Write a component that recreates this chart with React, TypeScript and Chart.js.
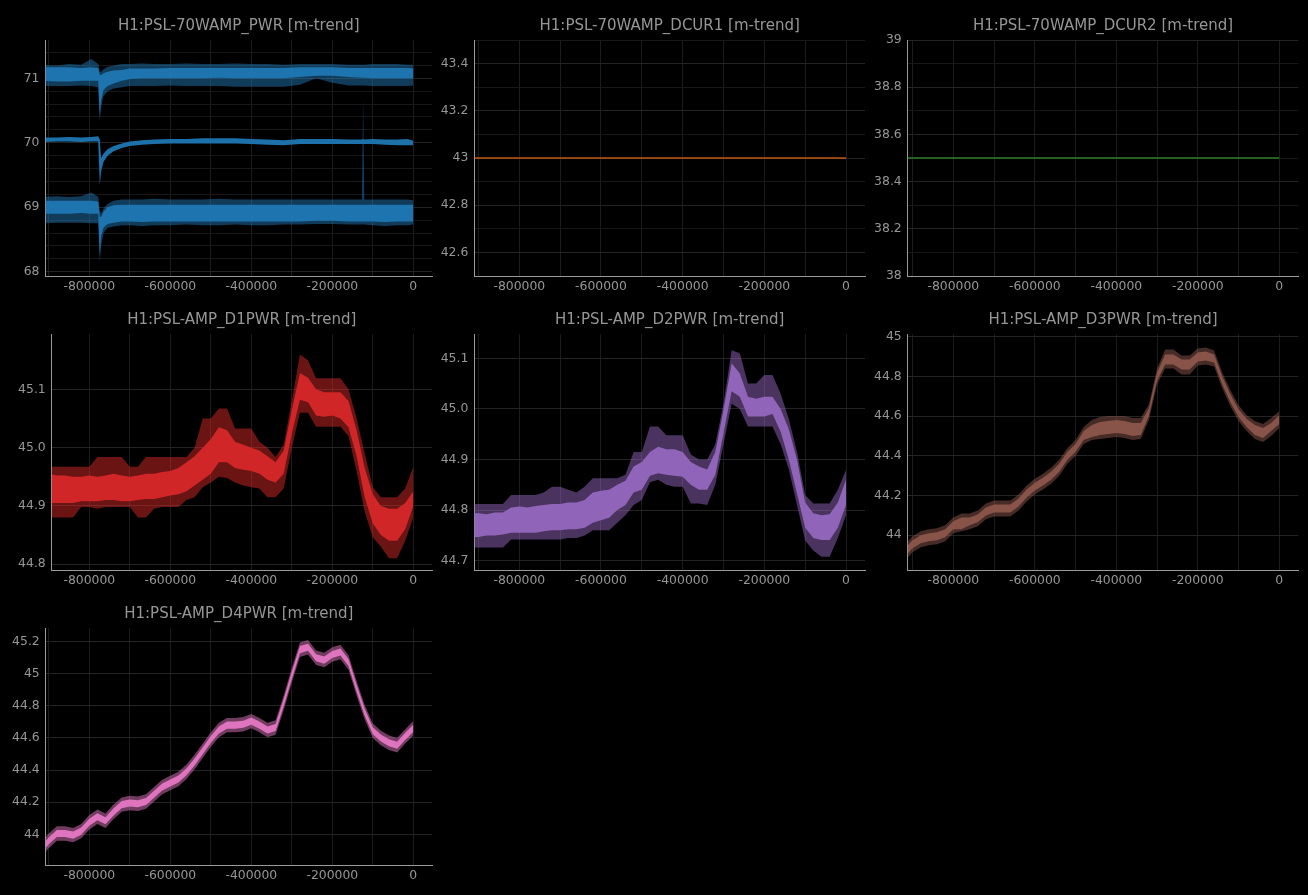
import { useEffect, useRef } from 'react';
import { Chart, registerables } from 'chart.js';

Chart.register(...registerables);

const FONT = '"DejaVu Sans", sans-serif';
const TEXT = '#969696';
const AXIS = '#9a9a9a';
const GRID_MAJOR = '#242424';
const GRID_MINOR = '#181818';
const GRID_X = '#1c1c1c';

// x ticks (seconds), labels shown on every second one
const X_TICKS = [-900000, -800000, -700000, -600000, -500000, -400000, -300000, -200000, -100000, 0];

// ---- H1:PSL-70WAMP_PWR (max / mean / min bands) ----
const T_PWR = [-920000, -880000, -850000, -820000, -795000, -778000, -774000, -771000, -765000, -755000, -740000, -720000, -700000, -670000, -640000, -600000, -560000, -520000, -480000, -440000, -400000, -360000, -320000, -280000, -240000, -200000, -160000, -127000, -124000, -121000, -100000, -70000, -40000, -15000, 0];
const PWR_MAX_OUT_HI = [71.21, 71.2, 71.22, 71.21, 71.3, 71.22, 71.1, 71.1, 71.14, 71.18, 71.2, 71.22, 71.22, 71.23, 71.22, 71.22, 71.23, 71.22, 71.22, 71.23, 71.22, 71.22, 71.21, 71.22, 71.22, 71.22, 71.21, 71.21, 71.21, 71.21, 71.22, 71.22, 71.22, 71.21, 71.21];
const PWR_MAX_OUT_LO = [70.88, 70.88, 70.88, 70.89, 70.88, 70.86, 70.33, 70.55, 70.72, 70.8, 70.84, 70.86, 70.88, 70.88, 70.88, 70.89, 70.88, 70.88, 70.88, 70.87, 70.87, 70.87, 70.87, 70.9, 71.0, 70.93, 70.89, 70.89, 70.89, 70.89, 70.88, 70.88, 70.88, 70.88, 70.89];
const PWR_MAX_CORE_HI = [71.17, 71.17, 71.17, 71.16, 71.17, 71.16, 71.05, 71.05, 71.08, 71.1, 71.12, 71.13, 71.15, 71.15, 71.15, 71.16, 71.16, 71.16, 71.16, 71.16, 71.16, 71.16, 71.16, 71.17, 71.17, 71.17, 71.16, 71.16, 71.16, 71.16, 71.16, 71.16, 71.16, 71.16, 71.15];
const PWR_MAX_CORE_LO = [70.96, 70.95, 70.95, 70.96, 70.96, 70.96, 70.42, 70.65, 70.82, 70.88, 70.92, 70.96, 70.99, 71.0, 71.0, 71.0, 71.0, 71.0, 71.01, 71.0, 71.0, 71.0, 71.0, 71.02, 71.04, 71.04, 71.02, 71.01, 71.01, 71.01, 71.0, 71.0, 71.0, 71.0, 71.0];
const PWR_MEAN_HI = [70.08, 70.08, 70.09, 70.08, 70.09, 70.1, 70.05, 69.76, 69.83, 69.9, 69.95, 69.99, 70.02, 70.04, 70.05, 70.06, 70.06, 70.07, 70.07, 70.07, 70.06, 70.05, 70.04, 70.06, 70.06, 70.06, 70.05, 70.05, 70.06, 70.05, 70.06, 70.05, 70.05, 70.06, 70.03];
const PWR_MEAN_LO = [70.01, 70.02, 70.02, 70.01, 70.02, 70.02, 69.34, 69.55, 69.7, 69.8, 69.87, 69.92, 69.95, 69.97, 69.98, 69.99, 69.99, 69.99, 69.99, 69.99, 69.98, 69.97, 69.96, 69.98, 69.98, 69.98, 69.98, 69.98, 69.98, 69.98, 69.98, 69.97, 69.96, 69.96, 69.96];
const PWR_MIN_OUT_HI = [69.16, 69.17, 69.16, 69.17, 69.23, 69.16, 68.95, 68.9, 68.98, 69.05, 69.1, 69.12, 69.12, 69.12, 69.13, 69.12, 69.12, 69.12, 69.13, 69.12, 69.12, 69.12, 69.12, 69.12, 69.12, 69.12, 69.12, 69.12, 70.71, 69.12, 69.12, 69.12, 69.12, 69.12, 69.11];
const PWR_MIN_OUT_LO = [68.75, 68.76, 68.76, 68.76, 68.75, 68.75, 68.15, 68.4, 68.6, 68.68, 68.7, 68.72, 68.72, 68.71, 68.72, 68.72, 68.73, 68.72, 68.72, 68.73, 68.72, 68.72, 68.73, 68.73, 68.74, 68.74, 68.73, 68.73, 68.73, 68.73, 68.72, 68.71, 68.72, 68.72, 68.73];
const PWR_MIN_CORE_HI = [69.1, 69.1, 69.1, 69.1, 69.1, 69.09, 68.85, 68.85, 68.93, 69.0, 69.03, 69.04, 69.04, 69.04, 69.04, 69.04, 69.04, 69.04, 69.04, 69.04, 69.04, 69.04, 69.04, 69.04, 69.04, 69.04, 69.04, 69.04, 69.04, 69.04, 69.04, 69.04, 69.04, 69.04, 69.04];
const PWR_MIN_CORE_LO = [68.9, 68.9, 68.9, 68.91, 68.9, 68.9, 68.25, 68.55, 68.68, 68.74, 68.76, 68.78, 68.78, 68.77, 68.78, 68.78, 68.78, 68.78, 68.78, 68.78, 68.78, 68.78, 68.78, 68.78, 68.79, 68.79, 68.78, 68.78, 68.78, 68.78, 68.78, 68.77, 68.78, 68.78, 68.78];

// ---- DCUR1 / DCUR2 (flat) ----
const T_DCUR = [-920000, -760000, -160000, 0];
const DCUR1 = [43.0, 43.0, 43.0, 43.0];
const DCUR2 = [38.5, 38.5, 38.5, 38.5];

// ---- AMP_D1..D4 PWR (minute trend envelopes) ----
const T_D = [-920000, -900000, -880000, -860000, -840000, -820000, -800000, -780000, -760000, -740000, -720000, -700000, -680000, -660000, -640000, -620000, -600000, -580000, -560000, -540000, -520000, -500000, -480000, -460000, -440000, -420000, -400000, -380000, -360000, -340000, -320000, -300000, -280000, -260000, -240000, -220000, -200000, -180000, -160000, -140000, -120000, -100000, -80000, -60000, -40000, -20000, 0];

const D1_OUT_HI = [44.967, 44.967, 44.967, 44.967, 44.967, 44.967, 44.967, 44.984, 44.984, 44.984, 44.984, 44.967, 44.967, 44.984, 44.984, 44.984, 44.984, 44.984, 44.984, 45.0, 45.05, 45.05, 45.067, 45.067, 45.033, 45.033, 45.033, 45.01, 45.0, 44.984, 45.005, 45.08, 45.16, 45.15, 45.119, 45.119, 45.119, 45.119, 45.1, 45.05, 44.99, 44.932, 44.915, 44.915, 44.915, 44.93, 44.967];
const D1_CORE_HI = [44.955, 44.955, 44.952, 44.952, 44.95, 44.95, 44.952, 44.95, 44.952, 44.955, 44.952, 44.95, 44.952, 44.955, 44.955, 44.958, 44.96, 44.965, 44.975, 44.985, 45.0, 45.015, 45.035, 45.03, 45.01, 45.005, 45.0, 44.995, 44.985, 44.975, 44.995, 45.064, 45.128, 45.12, 45.1, 45.095, 45.095, 45.095, 45.08, 45.03, 44.965, 44.92, 44.9, 44.895, 44.895, 44.905, 44.925];
const D1_CORE_LO = [44.905, 44.905, 44.905, 44.905, 44.905, 44.908, 44.908, 44.908, 44.91, 44.91, 44.908, 44.908, 44.91, 44.912, 44.912, 44.915, 44.918, 44.92, 44.925, 44.935, 44.945, 44.955, 44.975, 44.975, 44.965, 44.962, 44.96, 44.955, 44.945, 44.94, 44.955, 45.024, 45.082, 45.078, 45.055, 45.053, 45.055, 45.05, 45.035, 44.985, 44.915, 44.87, 44.85, 44.84, 44.84, 44.86, 44.9];
const D1_OUT_LO = [44.88, 44.88, 44.88, 44.88, 44.88, 44.898, 44.898, 44.895, 44.898, 44.898, 44.898, 44.898, 44.88, 44.88, 44.895, 44.898, 44.898, 44.898, 44.91, 44.915, 44.932, 44.94, 44.95, 44.948, 44.94, 44.935, 44.932, 44.93, 44.915, 44.915, 44.93, 45.0, 45.06, 45.06, 45.036, 45.036, 45.036, 45.036, 45.02, 44.96, 44.89, 44.846, 44.83, 44.81, 44.81, 44.84, 44.88];

const D2_OUT_HI = [44.812, 44.812, 44.812, 44.812, 44.812, 44.83, 44.83, 44.83, 44.83, 44.835, 44.846, 44.846, 44.84, 44.835, 44.846, 44.863, 44.863, 44.863, 44.863, 44.87, 44.915, 44.915, 44.965, 44.965, 44.948, 44.948, 44.948, 44.91, 44.9, 44.9, 44.93, 45.01, 45.116, 45.11, 45.05, 45.05, 45.067, 45.067, 45.03, 44.98, 44.915, 44.83, 44.813, 44.813, 44.813, 44.84, 44.879];
const D2_CORE_HI = [44.794, 44.794, 44.792, 44.795, 44.795, 44.805, 44.807, 44.805, 44.808, 44.81, 44.812, 44.812, 44.815, 44.815, 44.82, 44.835, 44.838, 44.84, 44.85, 44.858, 44.886, 44.895, 44.915, 44.925, 44.92, 44.92, 44.915, 44.895, 44.886, 44.88, 44.915, 44.998, 45.09, 45.07, 45.024, 45.02, 45.024, 45.024, 45.0, 44.96, 44.9, 44.815, 44.794, 44.79, 44.792, 44.815, 44.86];
const D2_CORE_LO = [44.747, 44.747, 44.75, 44.75, 44.752, 44.755, 44.755, 44.755, 44.755, 44.758, 44.76, 44.76, 44.762, 44.762, 44.765, 44.775, 44.78, 44.785, 44.8, 44.81, 44.835, 44.84, 44.868, 44.873, 44.87, 44.868, 44.866, 44.85, 44.84, 44.84, 44.87, 44.952, 45.035, 45.024, 44.985, 44.985, 44.985, 44.99, 44.955, 44.9, 44.833, 44.765, 44.745, 44.741, 44.741, 44.765, 44.81];
const D2_OUT_LO = [44.726, 44.726, 44.726, 44.726, 44.726, 44.742, 44.742, 44.742, 44.742, 44.742, 44.742, 44.742, 44.745, 44.745, 44.75, 44.76, 44.76, 44.76, 44.775, 44.79, 44.81, 44.82, 44.855, 44.86, 44.85, 44.846, 44.846, 44.813, 44.813, 44.81, 44.85, 44.93, 45.01, 45.0, 44.965, 44.965, 44.965, 44.965, 44.93, 44.88, 44.81, 44.74, 44.72, 44.708, 44.708, 44.745, 44.79];

const D3_OUT_HI = [43.95, 43.995, 44.02, 44.03, 44.035, 44.05, 44.09, 44.11, 44.11, 44.125, 44.16, 44.175, 44.175, 44.175, 44.205, 44.25, 44.285, 44.31, 44.34, 44.38, 44.44, 44.48, 44.545, 44.58, 44.595, 44.6, 44.6, 44.6, 44.59, 44.59, 44.66, 44.84, 44.935, 44.935, 44.905, 44.905, 44.94, 44.945, 44.93, 44.82, 44.73, 44.655, 44.605, 44.575, 44.56, 44.59, 44.625];
const D3_CORE_HI = [43.93, 43.975, 44.0, 44.01, 44.015, 44.03, 44.07, 44.09, 44.09, 44.105, 44.14, 44.155, 44.155, 44.155, 44.185, 44.23, 44.265, 44.29, 44.32, 44.36, 44.42, 44.46, 44.525, 44.555, 44.57, 44.575, 44.58, 44.575, 44.565, 44.565, 44.64, 44.82, 44.91, 44.91, 44.885, 44.885, 44.92, 44.925, 44.91, 44.8, 44.71, 44.635, 44.585, 44.555, 44.54, 44.565, 44.605];
const D3_CORE_LO = [43.89, 43.935, 43.96, 43.97, 43.975, 43.99, 44.03, 44.03, 44.05, 44.065, 44.1, 44.115, 44.115, 44.115, 44.145, 44.19, 44.225, 44.25, 44.28, 44.32, 44.38, 44.42, 44.48, 44.495, 44.505, 44.51, 44.515, 44.51, 44.5, 44.505, 44.6, 44.78, 44.86, 44.86, 44.835, 44.835, 44.875, 44.88, 44.87, 44.76, 44.67, 44.595, 44.545, 44.505, 44.49, 44.525, 44.56];
const D3_OUT_LO = [43.87, 43.915, 43.94, 43.95, 43.955, 43.97, 44.01, 44.02, 44.03, 44.045, 44.08, 44.095, 44.095, 44.095, 44.125, 44.17, 44.205, 44.23, 44.26, 44.3, 44.36, 44.4, 44.46, 44.48, 44.485, 44.49, 44.495, 44.49, 44.48, 44.485, 44.58, 44.76, 44.84, 44.84, 44.81, 44.81, 44.855, 44.86, 44.85, 44.74, 44.65, 44.575, 44.525, 44.485, 44.47, 44.5, 44.54];

const D4_OUT_HI = [43.945, 44.005, 44.05, 44.05, 44.04, 44.065, 44.12, 44.155, 44.13, 44.185, 44.23, 44.24, 44.235, 44.25, 44.295, 44.34, 44.365, 44.39, 44.435, 44.495, 44.565, 44.635, 44.695, 44.725, 44.725, 44.73, 44.75, 44.725, 44.695, 44.71, 44.865, 45.035, 45.195, 45.21, 45.145, 45.13, 45.165, 45.18, 45.115, 44.955, 44.805, 44.69, 44.645, 44.615, 44.6, 44.655, 44.705];
const D4_CORE_HI = [43.922, 43.982, 44.027, 44.027, 44.017, 44.042, 44.097, 44.132, 44.107, 44.162, 44.207, 44.217, 44.212, 44.227, 44.272, 44.317, 44.342, 44.367, 44.412, 44.472, 44.542, 44.612, 44.672, 44.702, 44.702, 44.707, 44.727, 44.702, 44.672, 44.687, 44.842, 45.012, 45.172, 45.187, 45.122, 45.107, 45.142, 45.157, 45.092, 44.932, 44.782, 44.667, 44.622, 44.592, 44.577, 44.632, 44.682];
const D4_CORE_LO = [43.878, 43.938, 43.983, 43.983, 43.973, 43.998, 44.053, 44.088, 44.063, 44.118, 44.163, 44.173, 44.168, 44.183, 44.228, 44.273, 44.298, 44.323, 44.368, 44.428, 44.498, 44.568, 44.628, 44.658, 44.658, 44.663, 44.683, 44.658, 44.628, 44.643, 44.798, 44.968, 45.128, 45.143, 45.078, 45.063, 45.098, 45.113, 45.048, 44.888, 44.738, 44.623, 44.578, 44.548, 44.533, 44.588, 44.638];
const D4_OUT_LO = [43.855, 43.915, 43.96, 43.96, 43.95, 43.975, 44.03, 44.065, 44.04, 44.095, 44.14, 44.15, 44.145, 44.16, 44.205, 44.25, 44.275, 44.3, 44.345, 44.405, 44.475, 44.545, 44.605, 44.635, 44.635, 44.64, 44.66, 44.635, 44.605, 44.62, 44.775, 44.945, 45.105, 45.12, 45.055, 45.04, 45.075, 45.09, 45.025, 44.865, 44.715, 44.6, 44.555, 44.525, 44.51, 44.565, 44.615];

type Band = { t: number[]; hi: number[]; lo: number[]; color: string };
type Trace = { t: number[]; y: number[]; color: string };

interface PanelProps {
  title: string;
  area: [number, number, number, number]; // plot left, top, right, bottom in page px
  xRange: [number, number];
  yRange: [number, number];
  yLabels: number[];
  yStep: number;
  fmt: (v: number) => string;
  bands: Band[];
  traces?: Trace[];
}

const trim = (v: number) => String(Number(v.toFixed(1)));
const fixed1 = (v: number) => v.toFixed(1);
const whole = (v: number) => String(Math.round(v));

// core band first so it is drawn above the faint outer envelope
const envelope = (t: number[], oh: number[], ch: number[], cl: number[], ol: number[], rgb: string): Band[] => [
  { t, hi: ch, lo: cl, color: `rgba(${rgb},0.95)` },
  { t, hi: oh, lo: ol, color: `rgba(${rgb},0.5)` },
];

const PANELS: PanelProps[] = [
  {
    title: 'H1:PSL-70WAMP_PWR [m-trend]',
    area: [45.5, 40, 432, 276],
    xRange: [-908150, 46170],
    yRange: [67.933, 71.594],
    yLabels: [68, 69, 70, 71],
    yStep: 0.2,
    fmt: whole,
    bands: [
      ...envelope(T_PWR, PWR_MAX_OUT_HI, PWR_MAX_CORE_HI, PWR_MAX_CORE_LO, PWR_MAX_OUT_LO, '31,119,180'),
      { t: T_PWR, hi: PWR_MEAN_HI, lo: PWR_MEAN_LO, color: 'rgba(31,119,180,0.95)' },
      ...envelope(T_PWR, PWR_MIN_OUT_HI, PWR_MIN_CORE_HI, PWR_MIN_CORE_LO, PWR_MIN_OUT_LO, '31,119,180'),
    ],
  },
  {
    title: 'H1:PSL-70WAMP_DCUR1 [m-trend]',
    area: [474.3, 40, 865, 276],
    xRange: [-910180, 46525],
    yRange: [42.5, 43.5],
    yLabels: [42.6, 42.8, 43, 43.2, 43.4],
    yStep: 0.1,
    fmt: trim,
    bands: [],
    traces: [{ t: T_DCUR, y: DCUR1, color: 'rgba(230,100,20,0.85)' }],
  },
  {
    title: 'H1:PSL-70WAMP_DCUR2 [m-trend]',
    area: [907.7, 40, 1298.3, 276],
    xRange: [-911900, 46626],
    yRange: [38, 39],
    yLabels: [38, 38.2, 38.4, 38.6, 38.8, 39],
    yStep: 0.1,
    fmt: trim,
    bands: [],
    traces: [{ t: T_DCUR, y: DCUR2, color: 'rgba(44,140,44,0.9)' }],
  },
  {
    title: 'H1:PSL-AMP_D1PWR [m-trend]',
    area: [51.7, 334, 432, 570],
    xRange: [-892840, 46170],
    yRange: [44.79, 45.195],
    yLabels: [44.8, 44.9, 45.0, 45.1],
    yStep: 0.1,
    fmt: fixed1,
    bands: envelope(T_D, D1_OUT_HI, D1_CORE_HI, D1_CORE_LO, D1_OUT_LO, '214,39,40'),
  },
  {
    title: 'H1:PSL-AMP_D2PWR [m-trend]',
    area: [474.3, 334, 865, 570],
    xRange: [-910180, 46525],
    yRange: [44.6816, 45.148],
    yLabels: [44.7, 44.8, 44.9, 45.0, 45.1],
    yStep: 0.1,
    fmt: fixed1,
    bands: envelope(T_D, D2_OUT_HI, D2_CORE_HI, D2_CORE_LO, D2_OUT_LO, '148,103,189'),
  },
  {
    title: 'H1:PSL-AMP_D3PWR [m-trend]',
    area: [907.7, 334, 1298.3, 570],
    xRange: [-911900, 46626],
    yRange: [43.825, 45.0136],
    yLabels: [44, 44.2, 44.4, 44.6, 44.8, 45],
    yStep: 0.2,
    fmt: trim,
    bands: envelope(T_D, D3_OUT_HI, D3_CORE_HI, D3_CORE_LO, D3_OUT_LO, '140,86,75'),
  },
  {
    title: 'H1:PSL-AMP_D4PWR [m-trend]',
    area: [45.7, 628.3, 432, 865],
    xRange: [-907650, 46170],
    yRange: [43.809, 45.283],
    yLabels: [44, 44.2, 44.4, 44.6, 44.8, 45, 45.2],
    yStep: 0.2,
    fmt: trim,
    bands: envelope(T_D, D4_OUT_HI, D4_CORE_HI, D4_CORE_LO, D4_OUT_LO, '227,119,194'),
  },
];

const isLabel = (labels: number[], v: number) => labels.some((l) => Math.abs(l - v) < 1e-6);

function Panel(p: PanelProps) {
  const canvasRef = useRef<HTMLCanvasElement | null>(null);
  const [left, top, right, bottom] = p.area;
  const boxLeft = Math.floor(left) - 60;
  const boxTop = Math.floor(top) - 40;
  const boxW = Math.ceil(right - boxLeft) + 6;
  const boxH = Math.ceil(bottom - boxTop) + 26;

  useEffect(() => {
    if (!canvasRef.current) return;

    const yAxisW = left - boxLeft;
    const padTop = top - boxTop;
    const padRight = boxW - (right - boxLeft);
    const xAxisH = boxH - (bottom - boxTop);

    // y tick positions (labelled + minor)
    const yTicks: number[] = [];
    for (let k = Math.ceil(p.yRange[0] / p.yStep - 1e-6); k <= Math.floor(p.yRange[1] / p.yStep + 1e-6); k++) {
      yTicks.push(Number((k * p.yStep).toFixed(6)));
    }

    const datasets: any[] = [];
    p.bands.forEach((b) => {
      datasets.push({
        data: b.t.map((x, i) => ({ x, y: b.hi[i] })),
        borderWidth: 0,
        borderColor: 'rgba(0,0,0,0)',
        pointRadius: 0,
        fill: false,
      });
      datasets.push({
        data: b.t.map((x, i) => ({ x, y: b.lo[i] })),
        borderWidth: 0,
        borderColor: 'rgba(0,0,0,0)',
        backgroundColor: b.color,
        pointRadius: 0,
        fill: '-1',
      });
    });
    (p.traces || []).forEach((tr) => {
      datasets.push({
        data: tr.t.map((x, i) => ({ x, y: tr.y[i] })),
        borderWidth: 1.3,
        borderColor: tr.color,
        pointRadius: 0,
        fill: false,
      });
    });

    const titlePlugin = {
      id: 'panelTitle',
      afterDraw(chart: Chart) {
        const { ctx, chartArea } = chart;
        ctx.save();
        ctx.font = `15px ${FONT}`;
        ctx.fillStyle = TEXT;
        ctx.textAlign = 'center';
        ctx.textBaseline = 'alphabetic';
        ctx.fillText(p.title, (chartArea.left + chartArea.right) / 2, chartArea.top - 10);
        ctx.restore();
      },
    };

    const chart = new Chart(canvasRef.current, {
      type: 'line',
      data: { datasets },
      options: {
        animation: false,
        responsive: true,
        maintainAspectRatio: false,
        events: [],
        layout: { padding: { top: padTop, right: padRight, left: 0, bottom: 0 } },
        elements: { line: { tension: 0 }, point: { radius: 0 } },
        plugins: { legend: { display: false }, tooltip: { enabled: false }, title: { display: false } },
        scales: {
          x: {
            type: 'linear',
            min: p.xRange[0],
            max: p.xRange[1],
            afterBuildTicks: (scale: any) => {
              scale.ticks = X_TICKS.filter((v) => v >= p.xRange[0] && v <= p.xRange[1]).map((value) => ({ value }));
            },
            afterFit: (scale: any) => {
              scale.height = xAxisH;
            },
            ticks: {
              autoSkip: false,
              maxRotation: 0,
              minRotation: 0,
              padding: 3,
              color: TEXT,
              font: { family: FONT, size: 12.4 },
              callback: (v: any) => (Number(v) % 200000 === 0 ? String(Number(v)) : ''),
            },
            grid: { color: GRID_X, drawTicks: false, lineWidth: 1 },
            border: { display: true, color: AXIS, width: 1 },
          },
          y: {
            type: 'linear',
            min: p.yRange[0],
            max: p.yRange[1],
            afterBuildTicks: (scale: any) => {
              scale.ticks = yTicks.map((value) => ({ value }));
            },
            afterFit: (scale: any) => {
              scale.width = yAxisW;
            },
            ticks: {
              autoSkip: false,
              padding: 6,
              color: TEXT,
              font: { family: FONT, size: 12.4 },
              callback: (v: any) => (isLabel(p.yLabels, Number(v)) ? p.fmt(Number(v)) : ''),
            },
            grid: {
              drawTicks: false,
              lineWidth: 1,
              color: (ctx: any) => (ctx.tick && isLabel(p.yLabels, ctx.tick.value) ? GRID_MAJOR : GRID_MINOR),
            },
            border: { display: true, color: AXIS, width: 1 },
          },
        },
      },
      plugins: [titlePlugin],
    } as any);

    return () => {
      chart.destroy();
    };
  }, []);

  return (
    <div style={{ position: 'absolute', left: boxLeft, top: boxTop, width: boxW, height: boxH }}>
      <canvas ref={canvasRef} />
    </div>
  );
}

export default function App() {
  return (
    <div style={{ position: 'fixed', inset: 0, background: '#000000', overflow: 'hidden' }}>
      {PANELS.map((p) => (
        <Panel key={p.title} {...p} />
      ))}
    </div>
  );
}
